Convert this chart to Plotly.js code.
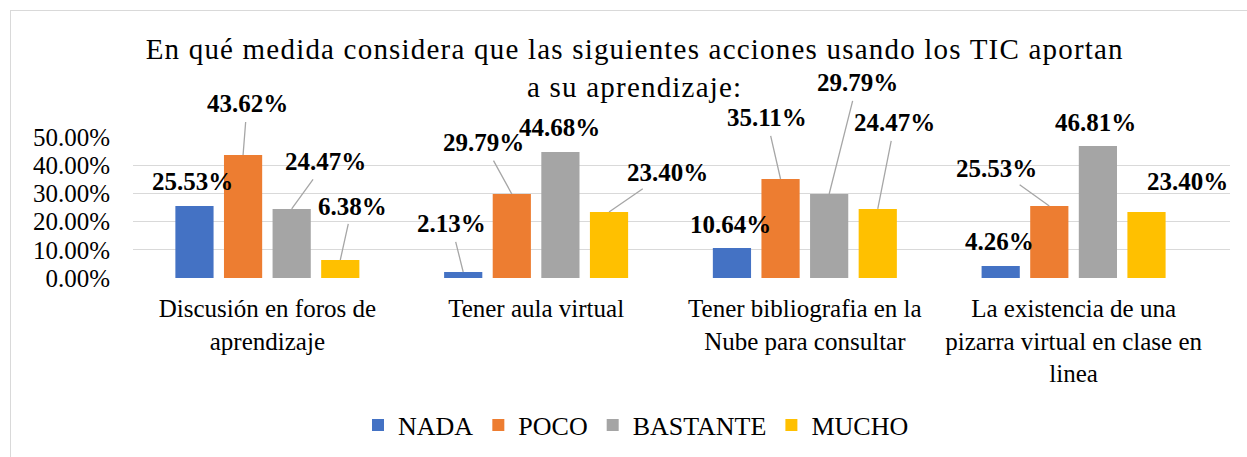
<!DOCTYPE html>
<html>
<head>
<meta charset="utf-8">
<script src="https://cdn.plot.ly/plotly-3.0.1.min.js"></script>
<style>
  html, body { margin: 0; padding: 0; background: #fff; overflow: hidden; }
  #wrap { position: relative; width: 1247px; height: 457px; }
  #chart { position: absolute; left: 0; top: 0; width: 1247px; height: 457px; }
  #frame { position: absolute; left: 10px; top: 10px; width: 1300px; height: 520px;
           border: 1.5px solid #d9d9d9; pointer-events: none; }
  .gtitle { letter-spacing: 1.2px; }
</style>
</head>
<body>
<div id="wrap">
  <div id="chart"></div>
  <div id="frame"></div>
</div>
<script>
// ---- data ----
const categories = [
  "Discusión en foros de<br>aprendizaje",
  "Tener aula virtual",
  "Tener bibliografia en la<br>Nube para consultar",
  "La existencia de una<br>pizarra virtual en clase en<br>linea"
];
const seriesNames = ["NADA", "POCO", "BASTANTE", "MUCHO"];
const nada     = [0.2553, 0.0213, 0.1064, 0.0426];
const poco     = [0.4362, 0.2979, 0.3511, 0.2553];
const bastante = [0.2447, 0.4468, 0.2979, 0.4681];
const mucho    = [0.0638, 0.2340, 0.2447, 0.2340];
const yTickVals = [0, 0.1, 0.2, 0.3, 0.4, 0.5];

// ---- styling ----
const colors = ["#4472C4", "#ED7D31", "#A5A5A5", "#FFC000"];
const FONT = "Liberation Serif, Times New Roman, serif";
const BARGAP = 0.2766, BARGROUPGAP = 0.214;

// label offsets in pixels (text centre relative to bar top) and leader visibility
const labelOffsets = [
  // NADA
  [[-2, -25, false], [-12, -48, true], [-1, -24, false], [-1, -24, false]],
  // POCO
  [[4, -51, true], [-28, -51, true], [-14, -61, true], [-53, -38, true]],
  // BASTANTE
  [[34, -47, true], [-1, -25, false], [28, -111, true], [-2, -24, false]],
  // MUCHO
  [[12, -54, true], [58, -40, true], [17, -86, true], [41, -31, false]]
];

const allSeries = [nada, poco, bastante, mucho];
const traces = allSeries.map((vals, i) => ({
  type: "bar",
  name: seriesNames[i],
  x: categories,
  y: vals,
  marker: { color: colors[i] },
  hoverinfo: "skip"
}));

const nT = allSeries.length;
const slot = (1 - BARGAP) / nT;
const annotations = [];
allSeries.forEach((vals, i) => {
  const off = (i - (nT - 1) / 2) * slot;
  vals.forEach((v, j) => {
    const [dx, dy, leader] = labelOffsets[i][j];
    annotations.push({
      x: j + off, y: v, xref: "x", yref: "y",
      text: "<b>" + (v * 100).toFixed(2) + "%</b>",
      showarrow: true,
      ax: dx, ay: dy,
      arrowhead: 0,
      arrowwidth: 1.3,
      arrowcolor: leader ? "#a6a6a6" : "rgba(0,0,0,0)",
      startstandoff: 3,
      font: { family: FONT, size: 25, color: "#000" }
    });
  });
});

const layout = {
  width: 1247, height: 457,
  paper_bgcolor: "rgba(0,0,0,0)",
  plot_bgcolor: "#fff",
  margin: { l: 133, r: 17, t: 137, b: 179 },
  font: { family: FONT, color: "#000" },
  title: {
    text: "En qué medida considera que las siguientes acciones usando los TIC aportan<br>a su aprendizaje:",
    font: { family: FONT, size: 29, color: "#000" },
    x: 0.509, xanchor: "center", xref: "container",
    y: 1 - 59 / 457, yanchor: "top", yref: "container"
  },
  barmode: "group",
  bargap: BARGAP,
  bargroupgap: BARGROUPGAP,
  xaxis: {
    type: "category",
    tickfont: { family: FONT, size: 25, color: "#000" },
    showline: false, showgrid: false, zeroline: false,
    ticks: "", ticklabelstandoff: 13, fixedrange: true
  },
  yaxis: {
    range: [0, 0.5],
    tickvals: yTickVals,
    tickformat: ".2%",
    tickfont: { family: FONT, size: 25, color: "#000" },
    showgrid: true, gridcolor: "#d9d9d9", gridwidth: 1.3,
    zeroline: false, showline: false,
    ticks: "", ticklabelstandoff: 22, fixedrange: true
  },
  showlegend: true,
  legend: {
    orientation: "h",
    x: 636 / 1247, xanchor: "center", xref: "container",
    y: 1 - 425 / 457, yanchor: "middle", yref: "container",
    font: { family: FONT, size: 26, color: "#000" },
    itemwidth: 30,
    tracegroupgap: 0,
    bgcolor: "rgba(0,0,0,0)"
  },
  annotations: annotations
};

Plotly.newPlot("chart", traces, layout, { displayModeBar: false, staticPlot: true });
</script>
</body>
</html>
